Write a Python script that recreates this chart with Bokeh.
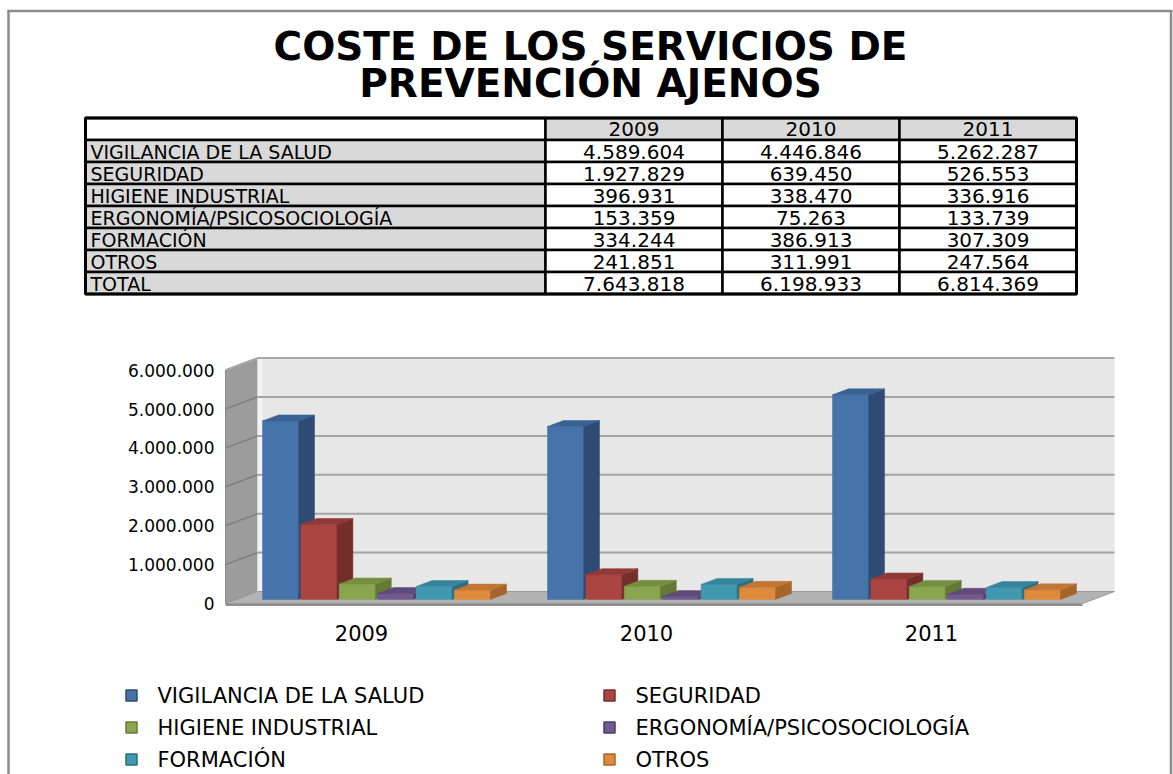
from bokeh.plotting import figure
from bokeh.models import Range1d, FixedTicker, LinearAxis
from bokeh.embed import file_html
from bokeh.resources import INLINE
from bokeh.core.properties import value

# ---------------- data ----------------
title_lines = ["COSTE DE LOS SERVICIOS DE", "PREVENCIÓN AJENOS"]
years = ["2009", "2010", "2011"]
categories = ["VIGILANCIA DE LA SALUD", "SEGURIDAD", "HIGIENE INDUSTRIAL",
              "ERGONOMÍA/PSICOSOCIOLOGÍA", "FORMACIÓN", "OTROS"]
v2009 = [4589604, 1927829, 396931, 153359, 334244, 241851]
v2010 = [4446846, 639450, 338470, 75263, 386913, 311991]
v2011 = [5262287, 526553, 336916, 133739, 307309, 247564]
totals = [7643818, 6198933, 6814369]
total_label = "TOTAL"
y_ticks = [0, 1000000, 2000000, 3000000, 4000000, 5000000, 6000000]
y_tick_labels = ["0", "1.000.000", "2.000.000", "3.000.000", "4.000.000", "5.000.000", "6.000.000"]

front_colors = ["#4673a9", "#ab4542", "#89a54e", "#72598f", "#4099b1", "#de893c"]
side_colors = ["#2e4b73", "#742e2c", "#637a37", "#4e3d66", "#2c6d7f", "#a6652a"]
top_colors = ["#3a6193", "#8f3a37", "#758f41", "#5f4a7a", "#35849a", "#c27634"]

FONT = value("DejaVu Sans")
series_by_year = [v2009, v2010, v2011]


def fmt(n):
    return f"{n:,}".replace(",", ".")


W, H = 1173, 774
BORDER = "#8c8c8c"

# value scale of the chart (front plane): 0 at pixel row 603, 38.9 px per million
PXM = 38.9 / 1e6
ZERO_Y = 603
y_top = ZERO_Y / PXM
y_bot = -(H - ZERO_Y) / PXM

p = figure(width=W, height=H, x_range=Range1d(0, W), y_range=Range1d(y_bot, y_top),
           x_axis_type=None, y_axis_type=None, toolbar_location=None,
           output_backend="svg", min_border=0, outline_line_color=None,
           background_fill_color="white", border_fill_color="white")
p.extra_y_ranges = {"px": Range1d(H, 0)}
p.xgrid.visible = False
p.ygrid.visible = False
PX = dict(y_range_name="px")

# ---------------- outer border ----------------
p.segment(x0=[8, 7, 1170.5], y0=[10, 10.5, 10], x1=[8, 1172, 1170.5], y1=[H, 10.5, H],
          line_color=BORDER, line_width=2.5, **PX)

# ---------------- title ----------------
p.text(x=[590, 590], y=[46, 83], text=title_lines, text_font=FONT,
       text_font_size="39px", text_font_style="bold", text_align="center",
       text_baseline="middle", text_color="black", **PX)

# ---------------- table ----------------
col_edges = [85, 545, 722, 899, 1076]
row_top = 117.5
row_h = 22
rows = categories + [total_label]
col_vals = [series_by_year[k] + [totals[k]] for k in range(len(years))]

ql, qr, qt, qb, qf = [], [], [], [], []
for c in range(len(col_edges) - 1):
    ql.append(col_edges[c]); qr.append(col_edges[c + 1])
    qt.append(row_top); qb.append(row_top + row_h)
    qf.append("white" if c == 0 else "#d9d9d9")
for r in range(len(rows)):
    for c in range(len(col_edges) - 1):
        ql.append(col_edges[c]); qr.append(col_edges[c + 1])
        qt.append(row_top + (r + 1) * row_h); qb.append(row_top + (r + 2) * row_h)
        qf.append("#d9d9d9" if c == 0 else "white")
p.quad(left=ql, right=qr, top=qt, bottom=qb, fill_color=qf,
       line_color="black", line_width=2.5, **PX)
p.quad(left=[col_edges[0]], right=[col_edges[-1]], top=[row_top],
       bottom=[row_top + (len(rows) + 1) * row_h], fill_color=None,
       line_color="black", line_width=3, **PX)

p.text(x=[(col_edges[c + 1] + col_edges[c + 2]) / 2 for c in range(len(years))],
       y=[row_top + row_h / 2] * len(years), text=years, text_font=FONT,
       text_font_size="20px", text_align="center", text_baseline="middle",
       text_color="black", **PX)
p.text(x=[col_edges[0] + 5] * len(rows),
       y=[row_top + (r + 1.5) * row_h + 0.8 for r in range(len(rows))],
       text=rows, text_font=FONT, text_font_size="19px", text_align="left",
       text_baseline="middle", text_color="black", **PX)
nx, ny, nt = [], [], []
for c in range(len(years)):
    for r in range(len(rows)):
        nx.append((col_edges[c + 1] + col_edges[c + 2]) / 2)
        ny.append(row_top + (r + 1.5) * row_h + 0.5)
        nt.append(fmt(col_vals[c][r]))
p.text(x=nx, y=ny, text=nt, text_font=FONT, text_font_size="20px",
       text_align="center", text_baseline="middle", text_color="black", **PX)

# ---------------- 3D column chart ----------------
DX = 32                    # depth shift in x (px)
DY = 12 / PXM              # depth shift in y (value units)
wall_left = 225
floor_right = 1082
wall_top = y_ticks[-1]

p.patch(x=[wall_left, wall_left + DX, wall_left + DX, wall_left],
        y=[0, DY, wall_top + DY, wall_top],
        fill_color="#9c9c9c", line_color="#8a8a8a", line_width=1)
p.quad(left=[wall_left + DX], right=[floor_right + DX], bottom=[DY], top=[wall_top + DY],
       fill_color="#e7e7e7", line_color=None)
p.quad(left=[wall_left + DX], right=[wall_left + DX + 5], bottom=[DY], top=[wall_top + DY],
       fill_color="#f3f3f3", line_color=None)
p.segment(x0=[wall_left, wall_left + DX], y0=[wall_top, wall_top + DY],
          x1=[wall_left + DX, floor_right + DX], y1=[wall_top + DY, wall_top + DY],
          line_color="#a8a8a8", line_width=2)
p.patch(x=[wall_left, floor_right, floor_right + DX, wall_left + DX], y=[0, 0, DY, DY],
        fill_color="#b3b3b3", line_color="#9a9a9a", line_width=1)
p.segment(x0=[wall_left], y0=[-1.5 / PXM], x1=[floor_right], y1=[-1.5 / PXM],
          line_color="#8f8f8f", line_width=2)
gl = y_ticks[1:-1]
p.segment(x0=[wall_left + DX] * len(gl), y0=[v + DY for v in gl],
          x1=[floor_right + DX] * len(gl), y1=[v + DY for v in gl],
          line_color="#a4a4a4", line_width=2)
p.segment(x0=[wall_left] * len(gl), y0=gl, x1=[wall_left + DX] * len(gl),
          y1=[v + DY for v in gl], line_color="#7f7f7f", line_width=1.5)

group_start = 262
group_pitch = 285
bar_pitch = 38.4
bar_w = 36
tf = 1 / 3
tb = 5 / 6
bxs, bys, bcol = [], [], []
for i, vals in enumerate(series_by_year):
    for j, v in enumerate(vals):
        x0 = group_start + group_pitch * i + bar_pitch * j
        x1 = x0 + bar_w
        sx = DX * (tb - tf)
        sy = DY * (tb - tf)
        yb = DY * tf
        yt = yb + v
        bxs += [[x0, x1, x1, x0], [x1, x1 + sx, x1 + sx, x1], [x0, x1, x1 + sx, x0 + sx]]
        bys += [[yb, yb, yt, yt], [yb, yb + sy, yt + sy, yt], [yt, yt, yt + sy, yt + sy]]
        bcol += [front_colors[j], side_colors[j], top_colors[j]]
p.patches(xs=bxs, ys=bys, fill_color=bcol, line_color=bcol, line_width=0.5)

# axes (fixed inside the single frame)
group_w = bar_pitch * (len(categories) - 1) + bar_w
x_ticks = [round(group_start + group_pitch * i + group_w / 2 - DX * tf - 4) for i in range(len(years))]
xaxis = LinearAxis(ticker=FixedTicker(ticks=x_ticks), fixed_location=-10 / PXM)
xaxis.major_label_overrides = {t: y for t, y in zip(x_ticks, years)}
xaxis.axis_line_color = None
xaxis.major_tick_line_color = None
xaxis.minor_tick_line_color = None
xaxis.major_label_text_font = "DejaVu Sans"
xaxis.major_label_text_font_size = "21px"
xaxis.major_label_text_color = "black"
xaxis.major_label_standoff = 5
p.add_layout(xaxis, "below")

yaxis = LinearAxis(ticker=FixedTicker(ticks=y_ticks), fixed_location=wall_left - 1)
yaxis.major_label_overrides = {t: s for t, s in zip(y_ticks, y_tick_labels)}
yaxis.axis_line_color = None
yaxis.major_tick_line_color = None
yaxis.minor_tick_line_color = None
yaxis.major_label_text_font = "DejaVu Sans"
yaxis.major_label_text_font_size = "17px"
yaxis.major_label_text_color = "black"
yaxis.major_label_standoff = 4
p.add_layout(yaxis, "left")

# ---------------- legend ----------------
col_x = [131, 609]
row_y = [695, 727, 759]
lx = [col_x[k % 2] for k in range(len(categories))]
ly = [row_y[k // 2] for k in range(len(categories))]
p.scatter(x=lx, y=ly, marker="square", size=11, fill_color=front_colors,
          line_color=side_colors, line_width=1.5, **PX)
p.text(x=[x + 26 for x in lx], y=ly, text=categories, text_font=FONT,
       text_font_size="21px", text_align="left", text_baseline="middle",
       text_color="black", **PX)

open("out.html", "w").write(file_html(p, INLINE))
